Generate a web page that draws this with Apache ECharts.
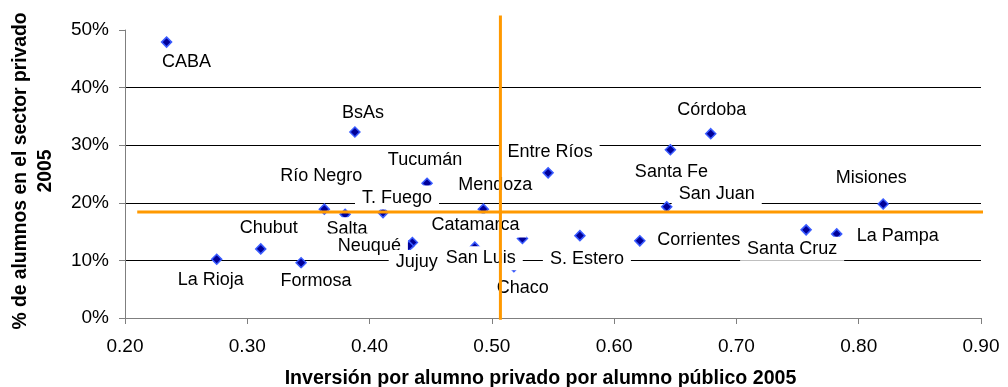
<!DOCTYPE html>
<html>
<head>
<meta charset="utf-8">
<script src="https://cdn.jsdelivr.net/npm/echarts@6/dist/echarts.min.js"></script>
<style>
html,body{margin:0;padding:0;background:#fff;}
#chart{width:1008px;height:387px;}
</style>
</head>
<body>
<div id="chart"></div>
<script>
// ---- data ----
var provinces = ["CABA","BsAs","Tucumán","Río Negro","Salta","T. Fuego","Mendoza","Chubut","La Rioja","Formosa","Neuqué","Jujuy","San Luis","Catamarca","Chaco","Entre Ríos","S. Estero","Corrientes","Santa Fe","Córdoba","San Juan","Santa Cruz","La Pampa","Misiones"];
var inversion = [0.234,0.388,0.447,0.363,0.380,0.411,0.493,0.311,0.275,0.344,0.435,0.432,0.486,0.525,0.518,0.546,0.572,0.621,0.646,0.679,0.643,0.757,0.782,0.820];
var privado   = [47.9,32.3,23.4,18.9,18.0,18.3,18.9,12.0,10.2,9.6,13.1,12.5,12.3,13.8,8.9,25.2,14.3,13.4,29.2,32.0,19.3,15.3,14.6,19.8];
var xTicks = [0.2,0.3,0.4,0.5,0.6,0.7,0.8,0.9];
var yTicks = [0,10,20,30,40,50];
var refX = 0.507;   // vertical reference (orange)
var refY = 18.4;    // horizontal reference (orange)

// ---- label layout (pixel offsets from marker) ----
var labelOffsets = {
  "CABA":[20,20],"BsAs":[8,-19],"Tucumán":[-2,-23],"Río Negro":[-3,-33],"Salta":[2,15],
  "T. Fuego":[14,-15],"Mendoza":[12,-24],"Chubut":[8,-21],"La Rioja":[-6,21],"Formosa":[15,18],
  "Neuqué":[-43,3],"Jujuy":[8,16],"San Luis":[6,11],"Catamarca":[-47,-13],"Chaco":[9,21],
  "Entre Ríos":[2,-21],"S. Estero":[7,23],"Corrientes":[59,-1],"Santa Fe":[1,22],"Córdoba":[1,-24],
  "San Juan":[50,-13],"Santa Cruz":[-14,19],"La Pampa":[61,2],"Misiones":[-12,-26]
};

var points = provinces.map(function(n,i){
  return {name:n, value:[inversion[i], privado[i]]};
});

var chart = echarts.init(document.getElementById('chart'));
var font = 'Liberation Sans, Arial, sans-serif';
chart.setOption({
  animation:false,
  backgroundColor:'#fff',
  grid:{left:125,right:27,top:30,bottom:69,containLabel:false,outerBoundsMode:'none'},
  xAxis:{
    type:'value',min:xTicks[0],max:xTicks[xTicks.length-1],interval:0.1,
    name:'Inversión por alumno privado por alumno público 2005',
    nameLocation:'middle',nameGap:51,
    nameTextStyle:{fontFamily:font,fontSize:19.6,fontWeight:'bold',color:'#000',padding:[0,25,0,0]},
    axisLine:{show:true,lineStyle:{color:'#7f7f7f',width:1}},
    axisTick:{show:true,length:6,lineStyle:{color:'#7f7f7f'}},
    axisLabel:{margin:19,fontFamily:font,fontSize:19,color:'#000',formatter:function(v){return v.toFixed(2);}},
    splitLine:{show:false}
  },
  yAxis:{
    type:'value',min:yTicks[0],max:yTicks[yTicks.length-1],interval:10,
    name:'% de alumnos en el sector privado\n2005',
    nameLocation:'middle',nameGap:67,nameRotate:90,
    nameTextStyle:{fontFamily:font,fontSize:19.3,fontWeight:'bold',color:'#000',lineHeight:25,align:'center',padding:[0,0,0,6]},
    axisLine:{show:true,lineStyle:{color:'#7f7f7f',width:1}},
    axisTick:{show:true,length:6,lineStyle:{color:'#7f7f7f'}},
    axisLabel:{margin:16,fontFamily:font,fontSize:19,color:'#000',formatter:'{value}%'},
    splitLine:{show:true,showMaxLine:false,lineStyle:{color:'#000',width:1}}
  },
  series:[
    {
      type:'scatter',
      data:points,
      symbol:'diamond',
      symbolSize:10,
      itemStyle:{color:'#000099',borderColor:'#3a5cff',borderWidth:1.5,opacity:1},
      label:{
        show:true,position:'inside',
        formatter:'{b}',
        fontFamily:font,fontSize:18,color:'#000',
        backgroundColor:'#fff',padding:[3,7]
      },
      labelLayout:function(p){
        var o = labelOffsets[provinces[p.dataIndex]] || [0,0];
        return {dx:o[0], dy:o[1], hideOverlap:false};
      },
      emphasis:{disabled:true},
      z:2
    },
    {
      type:'line',
      data:[[0.21,refY],[0.909,refY]],
      symbol:'none',clip:false,
      lineStyle:{color:'#ff9900',width:3},
      z:10,silent:true
    },
    {
      type:'line',
      data:[[refX,52.5],[refX,-0.3]],
      symbol:'none',clip:false,
      lineStyle:{color:'#ff9900',width:3},
      z:10,silent:true
    }
  ]
});
</script>
</body>
</html>
